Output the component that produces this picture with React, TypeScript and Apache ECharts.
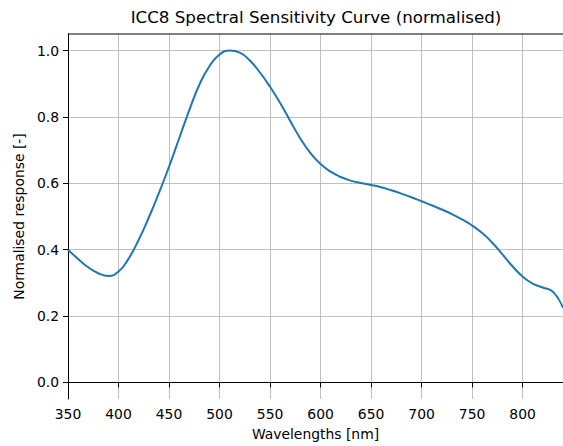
import React, { useEffect, useRef } from "react";
import * as echarts from "echarts";

const wavelengths = [
  350, 360, 370, 380, 390, 400, 410, 420, 430, 440, 450, 460, 470, 480, 490,
  500, 510, 520, 530, 540, 550, 560, 570, 580, 590, 600, 610, 620, 630, 640,
  650, 660, 670, 680, 690, 700, 710, 720, 730, 740, 750, 760, 770, 780, 790,
  800, 810, 820, 830, 840,
];
const response = [
  0.4, 0.372, 0.347, 0.329, 0.321, 0.334, 0.373, 0.43, 0.497, 0.571, 0.65,
  0.735, 0.82, 0.897, 0.953, 0.988, 1.0, 0.994, 0.97, 0.934, 0.891, 0.842,
  0.788, 0.735, 0.691, 0.658, 0.635, 0.619, 0.608, 0.601, 0.595, 0.588, 0.579,
  0.569, 0.558, 0.546, 0.534, 0.521, 0.507, 0.491, 0.473, 0.45, 0.421, 0.386,
  0.35, 0.319, 0.298, 0.286, 0.273, 0.225,
];
const yTicks = [0, 0.2, 0.4, 0.6, 0.8, 1.0];
const xTicks = [350, 400, 450, 500, 550, 600, 650, 700, 750, 800];

const FONT = "DejaVu Sans";

export default function App() {
  const ref = useRef<HTMLDivElement>(null);
  useEffect(() => {
    if (!ref.current) return;
    const chart = echarts.init(ref.current, undefined, { renderer: "svg" });
    const data = wavelengths.map((w, i) => [w, response[i]]);
    chart.setOption({
      animation: false,
      backgroundColor: "#ffffff",
      grid: { left: 68, right: 0, top: 34, bottom: 45 },
      graphic: [
        {
          type: "text",
          x: 316,
          y: 17,
          style: {
            text: "ICC8 Spectral Sensitivity Curve (normalised)",
            font: `16.7px "${FONT}"`,
            fill: "#000",
            textAlign: "center",
            textVerticalAlign: "middle",
          },
        },
        {
          type: "line",
          shape: { x1: 68, y1: 34, x2: 563, y2: 34 },
          style: { stroke: "#000", lineWidth: 1 },
          z: 10,
        },
      ],
      xAxis: {
        type: "value",
        min: 350,
        max: 840,
        interval: 50,
        name: "Wavelengths [nm]",
        nameLocation: "middle",
        nameGap: 28,
        nameTextStyle: { fontFamily: FONT, fontSize: 13.9, color: "#000" },
        axisLine: { show: true, lineStyle: { color: "#000", width: 1 } },
        axisTick: {
          show: true,
          length: 5,
          lineStyle: { color: "#000", width: 1 },
          customValues: xTicks,
        },
        axisLabel: {
          fontFamily: FONT,
          fontSize: 13.9,
          color: "#000",
          margin: 8,
          customValues: xTicks,
        },
        splitLine: { show: true, lineStyle: { color: "#b0b0b0", width: 0.8 } },
      },
      yAxis: {
        type: "value",
        min: -0.05,
        max: 1.05,
        name: "Normalised response [-]",
        nameLocation: "middle",
        nameGap: 36,
        nameTextStyle: { fontFamily: FONT, fontSize: 13.9, color: "#000" },
        axisLine: { show: true, onZero: false, lineStyle: { color: "#000", width: 1 } },
        axisTick: {
          show: true,
          length: 5,
          lineStyle: { color: "#000", width: 1 },
          customValues: yTicks,
        },
        axisLabel: {
          fontFamily: FONT,
          fontSize: 13.9,
          color: "#000",
          margin: 9,
          customValues: yTicks,
          formatter: (v: number) => v.toFixed(1),
        },
        splitLine: { show: true, lineStyle: { color: "#b0b0b0", width: 0.8 } },
      },
      series: [
        {
          type: "line",
          data,
          smooth: 0.5,
          showSymbol: false,
          lineStyle: { color: "#1f77b4", width: 2 },
          clip: true,
        },
      ],
    });
    return () => chart.dispose();
  }, []);
  return (
    <div
      ref={ref}
      style={{ position: "fixed", left: 0, top: 0, width: 563, height: 446 }}
    />
  );
}
